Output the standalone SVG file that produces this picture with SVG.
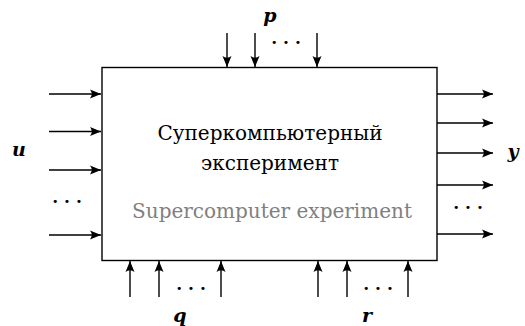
<svg xmlns="http://www.w3.org/2000/svg" width="525" height="326" viewBox="0 0 525 326">
<style>
.ln{stroke:#000;stroke-width:1.4;fill:none}
.dots{font-family:"DejaVu Serif",serif;font-size:17px;font-weight:bold;fill:#000;text-anchor:middle}
.lab{font-family:"DejaVu Serif",serif;font-size:19px;font-weight:bold;font-style:italic;fill:#000;text-anchor:middle}
.t{font-family:"DejaVu Serif",serif;font-size:20px;fill:#000;text-anchor:middle}
.g{fill:#808080}
</style>
<defs>
<marker id="ah" markerUnits="userSpaceOnUse" markerWidth="12" markerHeight="10" viewBox="-11 -5 12 10" refX="0" refY="0" orient="auto">
<path d="M0,0 L-11,-4.5 Q-7.5,0 -11,4.5 Z" fill="#000"/>
</marker>
</defs>
<rect width="525" height="326" fill="#fff"/>
<g id="box">
<rect class="ln" x="102" y="67.5" width="335" height="193"/>
<text class="t" x="270" y="140">Суперкомпьютерный</text>
<text class="t" x="270" y="170">эксперимент</text>
<text class="t g" x="272" y="218">Supercomputer experiment</text>
</g>
<g id="connectors">
<line class="ln" x1="49" y1="94" x2="101" y2="94" marker-end="url(#ah)"/>
<line class="ln" x1="49" y1="131.5" x2="101" y2="131.5" marker-end="url(#ah)"/>
<line class="ln" x1="49" y1="170" x2="101" y2="170" marker-end="url(#ah)"/>
<line class="ln" x1="49" y1="235" x2="101" y2="235" marker-end="url(#ah)"/>
<line class="ln" x1="437" y1="94" x2="493" y2="94" marker-end="url(#ah)"/>
<line class="ln" x1="437" y1="123" x2="493" y2="123" marker-end="url(#ah)"/>
<line class="ln" x1="437" y1="153" x2="493" y2="153" marker-end="url(#ah)"/>
<line class="ln" x1="437" y1="185" x2="493" y2="185" marker-end="url(#ah)"/>
<line class="ln" x1="437" y1="234" x2="493" y2="234" marker-end="url(#ah)"/>
<line class="ln" x1="227" y1="33" x2="227" y2="67" marker-end="url(#ah)"/>
<line class="ln" x1="255" y1="33" x2="255" y2="67" marker-end="url(#ah)"/>
<line class="ln" x1="317" y1="33" x2="317" y2="67" marker-end="url(#ah)"/>
<line class="ln" x1="130" y1="297" x2="130" y2="261" marker-end="url(#ah)"/>
<line class="ln" x1="159" y1="297" x2="159" y2="261" marker-end="url(#ah)"/>
<line class="ln" x1="221" y1="297" x2="221" y2="261" marker-end="url(#ah)"/>
<line class="ln" x1="318" y1="297" x2="318" y2="261" marker-end="url(#ah)"/>
<line class="ln" x1="347" y1="297" x2="347" y2="261" marker-end="url(#ah)"/>
<line class="ln" x1="408" y1="297" x2="408" y2="261" marker-end="url(#ah)"/>
</g>
<g id="labels">
<text class="lab" x="19" y="156">u</text>
<text class="lab" x="513" y="158">y</text>
<text class="lab" x="270" y="22">p</text>
<text class="lab" x="180" y="322">q</text>
<text class="lab" x="367" y="322">r</text>
<text class="dots" x="67" y="207">· · ·</text>
<text class="dots" x="468" y="213">· · ·</text>
<text class="dots" x="286" y="48">· · ·</text>
<text class="dots" x="191" y="294">· · ·</text>
<text class="dots" x="378" y="294">· · ·</text>
</g>
</svg>
